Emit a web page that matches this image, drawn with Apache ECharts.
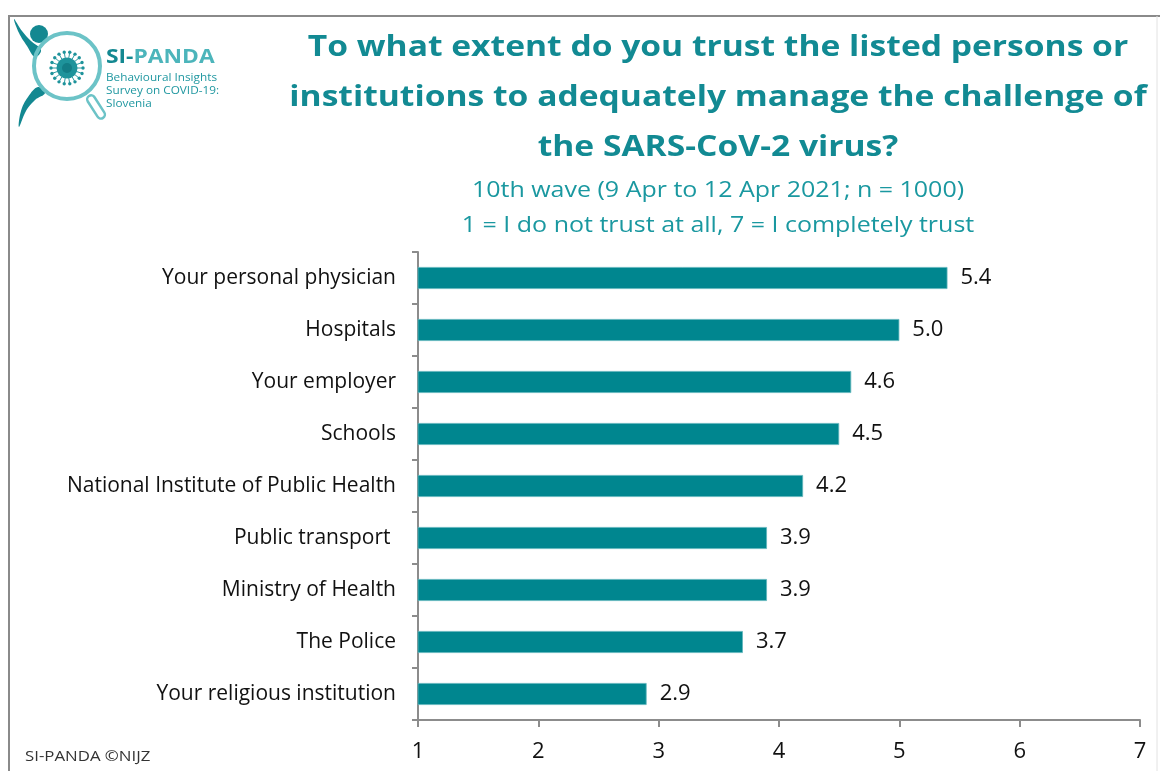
<!DOCTYPE html>
<html>
<head>
<meta charset="utf-8">
<script src="https://cdn.jsdelivr.net/npm/echarts@6/dist/echarts.min.js"></script>
<style>
  html, body { margin: 0; padding: 0; background: #fff; }
  #chart { width: 1160px; height: 771px; }
</style>
</head>
<body>
<div id="chart"></div>
<script>
// Survey items and mean trust scores (scale 1–7)
const categories = [
  'Your personal physician',
  'Hospitals',
  'Your employer',
  'Schools',
  'National Institute of Public Health',
  'Public transport ',
  'Ministry of Health',
  'The Police',
  'Your religious institution'
];
const trustScores = [5.4, 5.0, 4.6, 4.5, 4.2, 3.9, 3.9, 3.7, 2.9];
const axisTicks = [1, 2, 3, 4, 5, 6, 7];

const titleLines = [
  'To what extent do you trust the listed persons or',
  'institutions to adequately manage the challenge of',
  'the SARS-CoV-2 virus?'
];
const subtitleLines = [
  '10th wave (9 Apr to 12 Apr 2021; n = 1000)',
  '1 = I do not trust at all, 7 = I completely trust'
];
const logoLines = ['Behavioural Insights', 'Survey on COVID-19:', 'Slovenia'];

const TEAL = '#00868f';
const TITLE_TEAL = '#128a93';
const SUB_TEAL = '#1a98a0';
const LOGO_DARK = '#138891';
const LOGO_LIGHT = '#6cc3c7';
const FONT = '"Open Sans", Lato, sans-serif';

// centred, slightly widened text line drawn as a graphic element
function textLine(str, x, y, size, opts) {
  opts = opts || {};
  return {
    type: 'text', x: x, y: y, scaleX: opts.scaleX || 1, silent: true,
    style: {
      text: str, x: 0, y: 0,
      align: opts.align || 'center', verticalAlign: 'middle',
      fill: opts.color || '#111', fontFamily: FONT,
      fontWeight: opts.bold ? 'bold' : 'normal', fontSize: size,
      rich: opts.rich
    }
  };
}

// logo: magnifier glass with a virus inside
const vx = 67, vy = 68;
const virusDots = [];
for (let i = 0; i < 18; i++) {
  const a = (Math.PI * 2 * i) / 18;
  virusDots.push({
    type: 'line', silent: true,
    shape: { x1: vx + Math.cos(a) * 10, y1: vy + Math.sin(a) * 10, x2: vx + Math.cos(a) * 15, y2: vy + Math.sin(a) * 15 },
    style: { stroke: '#2a9aa2', lineWidth: 1 }
  });
  virusDots.push({
    type: 'circle', silent: true,
    shape: { cx: vx + Math.cos(a) * 16, cy: vy + Math.sin(a) * 16, r: 1.7 },
    style: { fill: '#1e939b' }
  });
}

const titleGraphics = titleLines.map((t, i) =>
  textLine(t, 718, 48 + i * 50, 28, { bold: true, color: TITLE_TEAL, scaleX: 1.2 }));
const subtitleGraphics = subtitleLines.map((t, i) =>
  textLine(t, 718, 191 + i * 35, 21, { color: SUB_TEAL, scaleX: 1.19 }));
const logoTextGraphics = logoLines.map((t, i) =>
  textLine(t, 106, 78 + i * 13, 11, { color: '#1f97a0', align: 'left', scaleX: 1.07 }));

const chart = echarts.init(document.getElementById('chart'), null, { renderer: 'canvas' });

chart.setOption({
  animation: false,
  backgroundColor: '#ffffff',
  grid: { left: 418, right: 20, top: 252, bottom: 51, containLabel: false },
  xAxis: {
    type: 'value',
    min: 1, max: 7, interval: 1,
    axisLine: { show: true, lineStyle: { color: '#8c8c8c', width: 2 } },
    axisTick: { show: true, length: 7, lineStyle: { color: '#8c8c8c', width: 2 } },
    axisLabel: {
      color: '#111', fontFamily: FONT, fontSize: 22, margin: 21,
      formatter: v => (axisTicks.includes(v) ? String(v) : '')
    },
    splitLine: { show: false }
  },
  yAxis: {
    type: 'category',
    inverse: true,
    data: categories,
    axisLine: { show: true, lineStyle: { color: '#8c8c8c', width: 2 } },
    axisTick: { show: true, length: 6, alignWithLabel: false, lineStyle: { color: '#8c8c8c', width: 2 } },
    axisLabel: { color: '#111', fontFamily: FONT, fontSize: 21, margin: 22 }
  },
  series: [{
    type: 'bar',
    data: trustScores,
    barWidth: 22,
    itemStyle: { color: TEAL, borderColor: '#5fb5bb', borderWidth: 0.8 },
    label: {
      show: true, position: 'right', distance: 13,
      color: '#111', fontFamily: FONT, fontSize: 22,
      formatter: p => p.value.toFixed(1)
    }
  }],
  graphic: [
    // outer frame
    { type: 'polyline', shape: { points: [[9, 771], [9, 16], [1160, 16]] },
      style: { stroke: '#8a8a8a', lineWidth: 2, fill: null }, silent: true },
    { type: 'line', shape: { x1: 1157, y1: 16, x2: 1157, y2: 771 },
      style: { stroke: '#e2e2e2', lineWidth: 1 }, silent: true },
    ...titleGraphics,
    ...subtitleGraphics,
    textLine('SI-PANDA ©NIJZ', 25, 757, 15, { color: '#333', align: 'left', scaleX: 1.12 }),
    // logo: figure
    { type: 'circle', shape: { cx: 39, cy: 34, r: 9 }, style: { fill: LOGO_DARK }, silent: true },
    { type: 'polygon', shape: { points: [[14, 19], [19, 33], [27, 46], [35, 57], [41, 50], [31, 41], [22, 31]], smooth: 0.4 },
      style: { fill: LOGO_DARK }, silent: true },
    { type: 'polygon', shape: { points: [[38, 87], [28, 97], [21, 111], [19, 127], [26, 111], [35, 100], [45, 93]], smooth: 0.4 },
      style: { fill: LOGO_DARK }, silent: true },
    // logo: magnifier
    { type: 'circle', shape: { cx: 67, cy: 66, r: 33 },
      style: { fill: null, stroke: LOGO_LIGHT, lineWidth: 4 }, silent: true },
    { type: 'rect', shape: { x: -4, y: 0, width: 8, height: 26, r: 4 },
      x: 89, y: 96, rotation: Math.PI / 5.5,
      style: { fill: '#fff', stroke: LOGO_LIGHT, lineWidth: 2.5 }, silent: true },
    ...virusDots,
    { type: 'circle', shape: { cx: vx, cy: vy, r: 10.5 }, style: { fill: '#1e939b' }, silent: true },
    { type: 'circle', shape: { cx: vx, cy: vy, r: 5 }, style: { fill: '#137d86' }, silent: true },
    // logo: text
    textLine('{a|SI-}{b|PANDA}', 106, 58, 19, { align: 'left', scaleX: 1.2, rich: {
      a: { fill: LOGO_DARK, fontFamily: FONT, fontWeight: 'bold', fontSize: 19 },
      b: { fill: '#4cb5bb', fontFamily: FONT, fontWeight: 'bold', fontSize: 19 }
    } }),
    ...logoTextGraphics
  ]
});
</script>
</body>
</html>
